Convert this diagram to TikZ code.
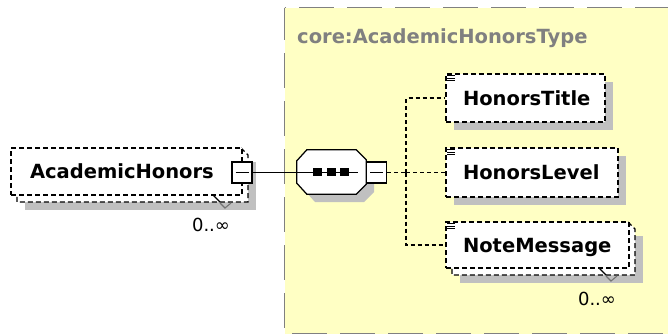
\documentclass[tikz,border=0pt]{standalone}
\usepackage{fontspec}
\newfontfamily\djv{DejaVu Sans}
\usetikzlibrary{calc}
\definecolor{typeyellow}{RGB}{255,255,196}
\definecolor{typeborder}{RGB}{128,128,128}
\definecolor{shadowgray}{RGB}{192,192,192}
\newcommand{\eqicon}[1]{%
  \foreach \dy in {2.5,5,7.5} {\draw[line width=1pt] ($(#1.north west)+(2,\dy)$) -- ++(8,0);}}
\begin{document}
\begin{tikzpicture}[x=1pt,y=-1pt,
  elemfont/.style={font=\djv\bfseries\fontsize{19.5}{22}\selectfont},
  elembox/.style={draw=black, line width=1.25pt, dash pattern=on 5pt off 3pt, fill=white,
    rectangle, inner ysep=0pt, text height=14.5pt, text depth=0pt, elemfont, align=left},
  backline/.style={draw=black, line width=1.25pt, dash pattern=on 5pt off 3pt},
  conn/.style={line width=1.25pt, dash pattern=on 4pt off 3pt},
  solidconn/.style={line width=1.25pt},
  typeline/.style={draw=typeborder, line width=1.8pt, dash pattern=on 35pt off 13pt},
  minusbox/.style={draw=black, line width=1.25pt, fill=white, minimum width=20pt,
    minimum height=21pt, inner sep=0pt,
    path picture={\draw[line width=1.25pt] ([xshift=-6.5pt]path picture bounding box.center)
      -- ([xshift=6.5pt]path picture bounding box.center);}},
  card/.style={font=\djv\fontsize{18}{20}\selectfont, inner sep=0pt, text height=13pt, text depth=0pt},
]
\useasboundingbox (0,0) rectangle (668,335);
\clip (0,0) rectangle (668,335);

% complex type box
\fill[typeyellow] (284.5,7.5) rectangle (700,333.5);
\draw[typeline, dash phase=33.5pt] (284.5,7.5) -- (700,7.5);
\draw[typeline, dash phase=2.5pt] (284.5,7.5) -- (284.5,333.5);
\draw[typeline, dash phase=40.5pt] (284.5,333.5) -- (700,333.5);
\node[anchor=base west, inner sep=0pt, elemfont, text=typeborder] (typetitle) at (297,43) {core:AcademicHonorsType};

% shadows
\fill[shadowgray] (25,162) rectangle (256,210);
\fill[shadowgray] (454,82) rectangle (613,130);
\fill[shadowgray] (454,156) rectangle (626,205);
\fill[shadowgray] (460,236) rectangle (643,283);
\fill[shadowgray] (305,169) -- (315,158) -- (364,158) -- (374,168) -- (374,192) -- (364,202) -- (315,202) -- (305,191) -- cycle;

% back boxes (multiple occurrences)
\fill[white] (17,195) -- (17,202) -- (248,202) -- (248,155) -- (241,148) -- (11,148) -- (11,195) -- cycle;
\draw[backline] (241,148) -- (248,155) -- (248,202) -- (17,202) -- (17,195);
\fill[white] (452,268) -- (452,275) -- (635,275) -- (635,229) -- (628,222) -- (446,222) -- (446,268) -- cycle;
\draw[backline] (628,222) -- (635,229) -- (635,275) -- (452,275) -- (452,268);

% element boxes
\node[elembox, inner xsep=19pt, text width=193pt, minimum height=47pt] (ah) at (126.5,171.5) {AcademicHonors};
\node[elembox, inner xsep=17pt, text width=125pt, minimum height=48pt] (ht) at (525.5,98) {HonorsTitle};
\node[elembox, inner xsep=17pt, text width=138pt, minimum height=49pt] (hl) at (532,172.5) {HonorsLevel};
\node[elembox, inner xsep=17pt, text width=149pt, minimum height=46pt] (nm) at (537.5,245) {NoteMessage};
\eqicon{ht}
\eqicon{hl}
\eqicon{nm}

% cardinality marks
\draw[line width=1.25pt] (213,195) -- (220,202);
\draw[line width=1.1pt, black!55] (220,203) -- (225,208) -- (231,203);
\node[card] (ahcard) at (211,224.5) {0..∞};
\draw[line width=1.25pt] (599,268) -- (606,275);
\draw[line width=1.1pt, black!55] (606,276) -- (611,281) -- (617,276);
\node[card] (nmcard) at (597,298.5) {0..∞};

% sequence compositor
\node[minimum width=69pt, minimum height=44pt, inner sep=0pt] (seq) at (331.5,172) {};
\filldraw[fill=white, draw=black, line width=1.25pt]
  ($(seq.north west)+(0,11)$) -- ($(seq.north west)+(10,0)$) -- ($(seq.north east)+(-10,0)$)
  -- ($(seq.north east)+(0,10)$) -- ($(seq.south east)+(0,-10)$) -- ($(seq.south east)+(-10,0)$)
  -- ($(seq.south west)+(10,0)$) -- ($(seq.south west)+(0,-11)$) -- cycle;
\coordinate (seqlineend) at ($(seq.east)+(-8,0.5)$);
\node[minusbox] (ahm) at (242,172.5) {};
\draw[solidconn] (ahm.east) -- (seqlineend);
\fill (313,168) rectangle (322,176);
\fill (327,168) rectangle (336,176);
\fill (340,168) rectangle (349,176);
\node[minusbox] (seqm) at (376.5,172.5) {};

% dashed connectors to children
\coordinate (fork) at (406,172.5);
\draw[conn] (seqm.east) -- (fork);
\draw[conn] (fork) |- (ht.west);
\draw[conn] (fork) |- (hl.west);
\draw[conn] (fork) |- (nm.west);
\end{tikzpicture}
\end{document}
